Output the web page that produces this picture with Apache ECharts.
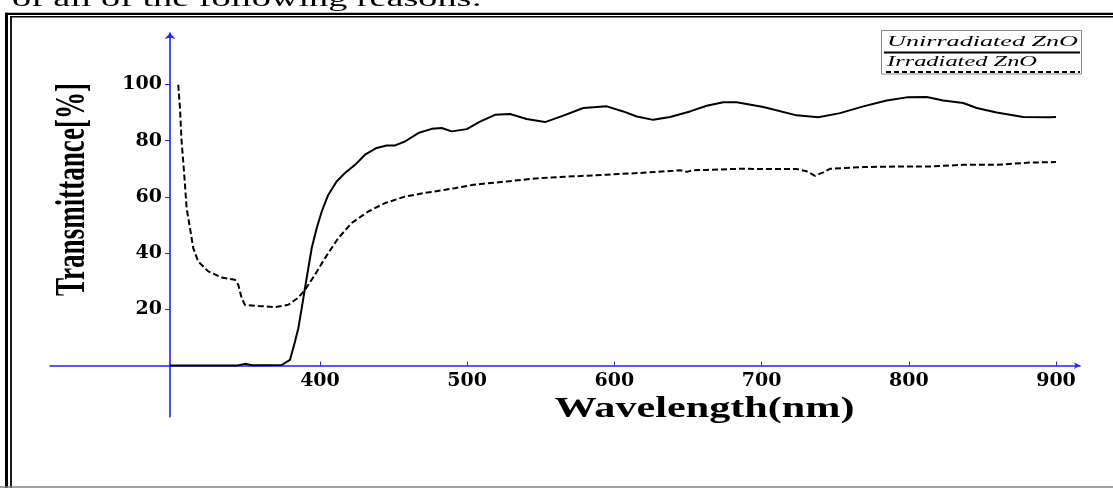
<!DOCTYPE html>
<html><head><meta charset="utf-8">
<script src="https://cdn.jsdelivr.net/npm/echarts@6/dist/echarts.min.js"></script>
<style>html,body{margin:0;padding:0;background:#fff}#c{width:1113px;height:488px}</style>
</head><body><div id="c"></div>
<script>
// ---------- data ----------
const seriesNames = ['Unirradiated ZnO', 'Irradiated ZnO'];
const unirradiatedWavelength = [298, 344, 349, 354, 374, 379.6, 383, 385.3, 387.6, 389.8, 392.1, 394.4, 397.8, 401.2, 405.6, 411.3, 417, 423.8, 430.6, 438.5, 445.3, 451, 457.7, 466.8, 475.9, 482.7, 489.5, 499.7, 508.7, 518.9, 529.1, 540.4, 552.9, 565.3, 578.9, 594.8, 606, 615.2, 626.4, 637.8, 651.4, 662.7, 674, 683.1, 701.2, 723.8, 738.5, 753.3, 769.1, 785, 798.6, 812.2, 823.4, 837, 846.1, 859.7, 877.8, 895.9, 900];
const unirradiatedT = [0, 0, 0.6, 0.1, 0.2, 2, 8.5, 13.3, 20.4, 27.5, 34.7, 41.8, 48.9, 54.8, 60.7, 65.5, 68.5, 71.4, 75, 77.4, 78.3, 78.3, 79.7, 82.7, 84.2, 84.5, 83.3, 84.1, 86.8, 89.2, 89.5, 87.7, 86.6, 88.9, 91.6, 92.2, 90.4, 88.6, 87.4, 88.4, 90.4, 92.4, 93.7, 93.7, 92.0, 89.0, 88.3, 89.8, 92.2, 94.3, 95.4, 95.5, 94.3, 93.4, 91.6, 90.0, 88.4, 88.3, 88.4];
const irradiatedWavelength = [303.7, 304.9, 306, 307.1, 308.3, 309.4, 311.7, 313.9, 317.3, 324.1, 333.2, 342.3, 344.5, 346.8, 349, 358.1, 369.4, 378.5, 385.3, 389.8, 396.6, 403.4, 412.4, 421.5, 432.8, 444.2, 457.7, 471.3, 484.9, 491.7, 504.1, 526.8, 549.5, 572.1, 594.8, 617.4, 640, 644.6, 649.1, 653.4, 662.7, 685.3, 701.2, 723.8, 730.6, 736.3, 741.9, 746.5, 769.1, 791.8, 814.4, 837, 859.7, 882.3, 900];
const irradiatedT = [99.9, 91.6, 79.7, 72.6, 64.3, 56, 48.9, 41.8, 37, 33.5, 31.3, 30.5, 28.7, 24, 21.6, 21.2, 20.8, 21.6, 24.2, 26.9, 32.3, 38.2, 45.3, 50.7, 54.8, 57.8, 60.1, 61.4, 62.5, 63.1, 64.3, 65.5, 66.7, 67.3, 67.9, 68.5, 69.3, 69.5, 68.9, 69.5, 69.6, 70.0, 69.9, 69.9, 69.1, 67.5, 68.7, 70.0, 70.6, 70.8, 70.8, 71.4, 71.4, 72.2, 72.4];
const xTickValues = [400, 500, 600, 700, 800, 900];
const yTickValues = [20, 40, 60, 80, 100];
const xAxisTitle = 'Wavelength(nm)';
const yAxisTitle = 'Transmittance[%]';
const pageText = 'of all of the following reasons:';

// ---------- helpers ----------
const mctx = document.createElement('canvas').getContext('2d');
function fitScale(font, text, target) { mctx.font = font; return target / mctx.measureText(text).width; }
function zip(a, b) { return a.map((v, i) => [v, b[i]]); }

const AX = '#2020ff';
const labelFont = { fontFamily: 'DejaVu Serif', fontWeight: 'bold', fontSize: 19, color: '#000' };

const fYT = 'bold 42px "Liberation Serif"';
const fXT = 'bold 30px "Liberation Serif"';
const fLeg = 'italic 15px "Liberation Serif"';
const fPage = '24px "Liberation Serif"';

const chart = echarts.init(document.getElementById('c'), null, { renderer: 'canvas' });
chart.setOption({
  animation: false,
  backgroundColor: '#fff',
  grid: { left: 50, right: 33, top: 33, bottom: 71.3, containLabel: false, outerBoundsMode: 'none' },
  xAxis: {
    type: 'value', min: 216.6, max: 916.3, position: 'bottom', offset: -51.1,
    axisLine: { onZero: false, symbol: ['none', 'arrow'], symbolSize: [5, 6], lineStyle: { color: AX, width: 1.6 } },
    axisTick: { customValues: xTickValues, inside: true, length: 4, lineStyle: { color: AX, width: 1 } },
    axisLabel: Object.assign({ customValues: xTickValues, margin: 6 }, labelFont),
    splitLine: { show: false }
  },
  yAxis: {
    type: 'value', min: -18.2, max: 118.3, position: 'left', offset: -120,
    axisLine: { onZero: false, symbol: ['none', 'arrow'], symbolSize: [8, 6], lineStyle: { color: AX, width: 1.6 } },
    axisTick: { customValues: yTickValues, inside: false, length: 5, lineStyle: { color: AX, width: 1 } },
    axisLabel: Object.assign({ customValues: yTickValues, margin: 8 }, labelFont),
    splitLine: { show: false }
  },
  series: [
    { name: seriesNames[0], type: 'line', data: zip(unirradiatedWavelength, unirradiatedT), showSymbol: false, symbol: 'none',
      lineStyle: { color: '#000', width: 2 }, itemStyle: { color: '#000' }, clip: false },
    { name: seriesNames[1], type: 'line', data: zip(irradiatedWavelength, irradiatedT), showSymbol: false, symbol: 'none',
      lineStyle: { color: '#000', width: 2, type: [6, 3] }, itemStyle: { color: '#000' }, clip: false }
  ],
  graphic: [
    // page frame (double rule)
    { type: 'line', silent: true, shape: { x1: 6.5, y1: 12.7, x2: 6.5, y2: 488 }, style: { stroke: '#000', lineWidth: 3 } },
    { type: 'line', silent: true, shape: { x1: 11, y1: 16.8, x2: 11, y2: 488 }, style: { stroke: '#000', lineWidth: 1.8 } },
    { type: 'line', silent: true, shape: { x1: 5, y1: 13.8, x2: 1113, y2: 13.8 }, style: { stroke: '#000', lineWidth: 2.3 } },
    { type: 'line', silent: true, shape: { x1: 10, y1: 16.8, x2: 1113, y2: 16.8 }, style: { stroke: '#000', lineWidth: 1.6 } },
    { type: 'line', silent: true, shape: { x1: 0, y1: 487, x2: 1113, y2: 487 }, style: { stroke: '#808080', lineWidth: 1.5 } },
    // cut-off page text at top
    { type: 'text', silent: true, x: 12, y: -0.5, scaleX: fitScale(fPage, pageText, 470),
      style: { text: pageText, font: fPage, fill: '#000', textAlign: 'left', textVerticalAlign: 'middle' } },
    // axis titles
    { type: 'text', silent: true, x: 73, y: 189.5, rotation: Math.PI / 2, scaleX: fitScale(fYT, yAxisTitle, 213),
      style: { text: yAxisTitle, font: fYT, fill: '#000', textAlign: 'center', textVerticalAlign: 'middle' } },
    { type: 'text', silent: true, x: 704.5, y: 409.5, scaleX: fitScale(fXT, xAxisTitle, 300),
      style: { text: xAxisTitle, font: fXT, fill: '#000', textAlign: 'center', textVerticalAlign: 'middle' } },
    // legend
    { type: 'rect', silent: true, shape: { x: 881.5, y: 30.5, width: 200, height: 43.5 }, style: { fill: '#fff', stroke: '#8a8a8a', lineWidth: 1 } },
    { type: 'text', silent: true, x: 887, y: 41.7, scaleX: fitScale(fLeg, seriesNames[0], 191),
      style: { text: seriesNames[0], font: fLeg, fill: '#000', textAlign: 'left', textVerticalAlign: 'middle' } },
    { type: 'line', silent: true, shape: { x1: 884, y1: 52.5, x2: 1080, y2: 52.5 }, style: { stroke: '#000', lineWidth: 1.8 } },
    { type: 'text', silent: true, x: 887, y: 62.3, scaleX: fitScale(fLeg, seriesNames[1], 150),
      style: { text: seriesNames[1], font: fLeg, fill: '#000', textAlign: 'left', textVerticalAlign: 'middle' } },
    { type: 'line', silent: true, shape: { x1: 886, y1: 72, x2: 1080, y2: 72 }, style: { stroke: '#000', lineWidth: 1.8, lineDash: [5, 3] } }
  ]
});
</script>
</body></html>
